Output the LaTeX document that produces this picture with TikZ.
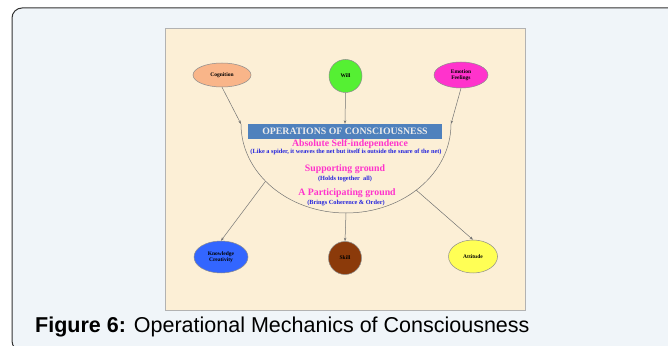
\documentclass[tikz,border=0pt]{standalone}
\usepackage{fontspec}
\setmainfont{Liberation Serif}
\newfontfamily\capfont{Liberation Sans}
\usetikzlibrary{arrows.meta, positioning, calc, shapes.geometric}
\definecolor{pagebg}{HTML}{F0F5F9}
\definecolor{paper}{HTML}{FCEFD6}
\definecolor{titlebar}{HTML}{4F81BD}
\definecolor{pinktext}{HTML}{FF33CC}
\definecolor{bluetext}{HTML}{2222DD}

\begin{document}
\begin{tikzpicture}[x=1pt, y=1pt,
    bubble/.style={ellipse, draw=black!45, line width=0.5pt, inner sep=0pt, align=center,
        font=\fontsize{5.5}{6}\selectfont\bfseries},
    link/.style={draw=black!55, line width=0.5pt, -{Stealth[length=3.5pt, width=2.5pt]}},
    headline/.style={text=pinktext, font=\fontsize{9.8}{11}\selectfont\bfseries},
    remark/.style={text=bluetext, font=\fontsize{6.3}{7}\selectfont\bfseries}]
    \useasboundingbox (0,0) rectangle (668,345);
    % Page and frame
    \fill[white] (0,0) rectangle (668,345);
    \draw[fill=pagebg, draw=black!80, line width=1pt, rounded corners=10pt] (12,-6) rectangle (690,337);
    \draw[fill=paper, draw=black!30, line width=0.8pt] (165,35) rectangle (525,317);
    % Upper bubbles
    \node[bubble, fill={rgb,255:red,249;green,181;blue,137}, minimum width=58, minimum height=24] (cog) at (222,270) {Cognition};
    \node[bubble, fill={rgb,255:red,85;green,240;blue,51}, minimum width=33, minimum height=33] (will) at (345.5,269) {Will};
    \node[bubble, fill={rgb,255:red,255;green,51;blue,204}, minimum width=54, minimum height=26] (emo) at (461,270) {Emotion\\Feelings};
    % Title bar and half ellipse
    \node[fill=titlebar, text=black!8, minimum width=194, minimum height=15, inner sep=0pt,
        font=\fontsize{9.8}{11}\selectfont\bfseries] (title) at (345,213.5) {OPERATIONS OF CONSCIOUSNESS};
    \coordinate (arcC) at (346,221);
    \coordinate (arcL) at ($(arcC)+(-105,0)$);
    \coordinate (arcR) at ($(arcC)+(105,0)$);
    \draw[black!55, line width=0.5pt] (arcL) arc[start angle=180, end angle=360, x radius=105, y radius=89];
    \coordinate (outL) at ($(arcC)+(220:105 and 89)$);
    \coordinate (outB) at ($(arcC)+(270:105 and 89)$);
    \coordinate (outR) at ($(arcC)+(312:105 and 89)$);
    % Texts inside
    \node[headline] (absolute) at (350,201) {Absolute Self-independence};
    \node[remark] (spider) at (346,193) {(Like a spider, it weaves the net but itself is outside the snare of the net)};
    \node[headline] (support) at (345,176) {Supporting ground};
    \node[remark] (holds) at (345,166) {(Holds together\ \ all)};
    \node[headline] (partic) at (347,152) {A Participating ground};
    \node[remark] (brings) at (346,142) {(Brings Coherence \& Order)};
    % Lower bubbles
    \node[bubble, fill={rgb,255:red,51;green,102;blue,255}, minimum width=54, minimum height=32] (know) at (221,88) {Knowledge\\Creativity};
    \node[bubble, fill={rgb,255:red,139;green,58;blue,10}, minimum width=33, minimum height=33] (skill) at (345,87) {Skill};
    \node[bubble, fill={rgb,255:red,255;green,255;blue,85}, minimum width=49, minimum height=33] (att) at (473,88.5) {Attitude};
    % Arrows
    \draw[link] (cog.south) -- (arcL);
    \draw[link] (will.south) -- (title.north);
    \draw[link] (emo.south) -- (arcR);
    \draw[link] (outL) -- (know.north);
    \draw[link] (outB) -- (skill.north);
    \draw[link] (outR) -- (att.north);
    % Caption
    \node[anchor=west, inner sep=0pt, font=\capfont\fontsize{21.5}{24}\selectfont] (caption) at (35,18)
        {\textbf{Figure 6:} Operational Mechanics of Consciousness};
\end{tikzpicture}
\end{document}
